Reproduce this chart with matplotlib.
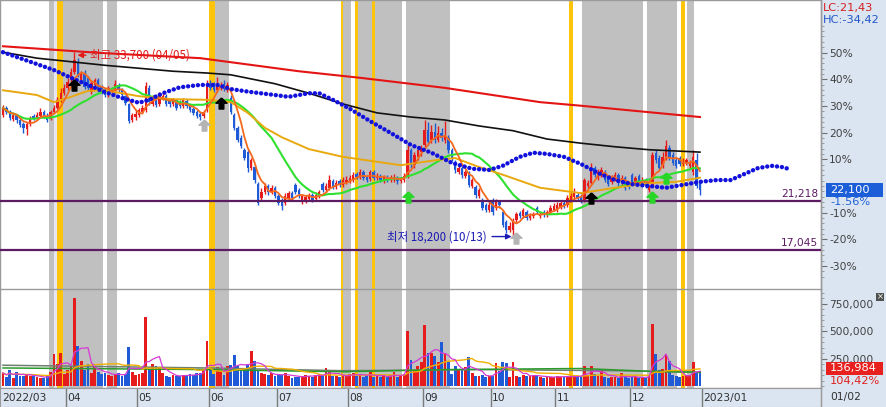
import matplotlib
matplotlib.use("Agg")
import matplotlib.pyplot as plt
import numpy as np
import pandas as pd
from matplotlib import font_manager
from matplotlib.path import Path
from matplotlib.patches import Rectangle
from matplotlib.transforms import blended_transform_factory

# ---------------- DATA ----------------
# daily OHLC, 2022/03 .. 2022/12 (one row per month)
open_ = [
 28400,29000,28650,28100,28400,28000,27650,27250,27650,28350,28150,28350,28650,28350,28100,28650,29000,29700,30250,
 30700,31350,32050,32900,31350,31950,31550,30350,30950,31350,30750,30500,30100,30350,30350,30950,30500,30000,29350,28000,28250,
 28400,28650,28850,30700,29350,29950,29350,29850,30000,29700,29350,29700,29500,29200,29600,29200,28950,28650,28500,28350,28850,
 31050,30850,30500,30700,31050,30500,29850,28400,27350,26500,25500,25300,23950,24050,22600,21450,21950,22450,21950,22300,
 21600,21250,21000,21450,21850,22550,22100,21100,21250,21350,21700,21350,21600,22600,22100,22300,22850,22350,22850,22550,22800,
 22850,22950,23450,23200,23650,23200,23050,23650,23150,23300,22850,23200,22950,22950,23150,22850,22950,23300,25500,24200,24900,25300,
 25900,27150,26300,27000,26300,26900,26300,26500,25500,24400,23650,23950,23300,23550,22450,22350,21600,21250,20850,20450,
 21250,20600,21100,20250,19400,18750,18750,19600,20200,19950,20250,19750,19950,20600,19950,20250,20000,20250,20450,
 20450,20700,21000,20850,21250,21500,21700,21600,21250,22450,22700,23950,23150,23400,23650,23150,22800,23050,23400,22700,23150,22600,
 23400,22800,23300,22600,22950,22100,22550,25250,24800,24200,24800,25650,25050,24650,24800,24300,24400,24150,23650,24650,22700,
]
close = [
 29000,28650,28150,28400,28000,27600,27350,27650,28150,28150,28400,28650,28350,28000,28650,29000,29700,30250,30700,
 31200,32050,33050,31800,31850,30750,30700,31100,31350,30500,30350,30100,30700,30500,31050,30500,30100,29450,27900,28400,28500,
 28850,29000,30850,29500,29950,29250,30100,30000,29350,29350,29700,29000,29200,29700,29200,28850,28600,28350,28250,28650,31050,
 30700,30500,31050,30850,30600,30950,28650,27350,26300,25800,24800,23950,24650,22950,21000,21950,22450,21950,22300,21600,
 21000,20750,21600,21850,21450,21950,21600,21600,21500,21600,21250,21700,21950,22100,22450,22950,22350,22700,22550,22950,22950,
 23150,23400,23200,23650,23150,22950,23650,23150,23300,22950,23200,22950,23150,23150,22850,23050,23300,25500,24200,25050,25500,25650,
 27150,26150,27000,26300,26900,26500,26750,25500,24800,23800,23950,23400,23650,22550,22950,21700,22100,20600,20450,20850,
 20250,21100,20850,19150,18750,19100,19400,20100,19950,20450,19750,19950,20100,20250,20100,20000,20250,20600,20750,
 20850,21000,20750,21450,21600,21950,21450,21250,22950,22700,24050,23400,23650,23800,22950,22600,23150,23400,22700,23150,22300,22450,
 22800,23150,22700,22950,22550,22350,25050,24650,23950,24900,25800,24800,24400,24150,24300,24450,24650,24400,24900,22450,22100,
]
high = [
 29250,29200,28850,28600,28500,28150,27850,27850,28350,28500,28650,29000,28850,28600,28850,29250,29950,30700,31050,
 31550,32350,33700,33200,32100,32200,31700,31350,31550,31550,30950,30700,30850,30750,31350,31100,30700,30100,29450,28600,28850,
 29000,29250,31200,30950,30100,30200,30350,30250,30200,29850,29850,29750,29700,29850,29750,29350,29100,28850,28650,28850,31350,
 31350,31200,31600,31200,31350,31200,30100,28600,27500,26750,25650,25500,24800,24200,22800,22300,22700,22600,22550,22450,
 21800,21450,21850,22050,22050,22700,22300,21800,21700,21850,21850,21950,22100,22800,22700,23400,23050,22950,23050,23200,23300,
 23400,23650,23650,23900,23800,23400,23800,23800,23550,23450,23400,23400,23400,23450,23300,23200,23550,25900,25650,25300,25750,25900,
 28000,27850,27600,27750,27500,27350,27900,26750,25650,24650,24200,24150,23800,23700,23150,22550,22300,21450,21000,21250,
 21450,21350,21250,20450,19600,19400,19750,20250,20350,20600,20450,20200,20250,20750,20250,20450,20450,20850,21000,
 21100,21250,21250,21700,21850,22300,21850,21800,23150,22950,24400,24150,23900,24050,23800,23300,23400,23650,23550,23400,23300,22800,
 23550,23300,23450,23200,23150,22550,25300,25500,25050,25300,26300,25900,25300,24900,24950,24800,24800,24650,25500,25250,22800,
]
low = [
 28250,28500,28000,27900,27750,27400,26900,26750,27500,28000,28100,28250,28150,27850,28000,28600,28950,29500,30100,
 30500,31200,31850,31600,31200,30600,30500,30200,30750,30350,30200,29950,29950,30250,30250,30350,29950,29250,27750,27850,28000,
 28250,28600,28650,29250,29200,29100,29200,29700,29200,29100,29200,28850,29000,29000,29000,28650,28400,28150,28000,28150,28650,
 30500,30350,30350,30500,30450,30350,28500,27150,26150,25650,24650,23650,23800,22700,20850,21250,21800,21700,21800,21450,
 20850,20450,20850,21250,21250,21800,21450,20950,21000,21200,21100,21250,21450,21950,21950,22100,22200,22200,22350,22350,22600,
 22700,22800,23050,23050,22950,22800,22850,22950,22950,22800,22700,22800,22800,22800,22600,22700,22800,23150,23950,23950,24650,24950,
 25750,25900,26050,26050,26150,26250,26050,25250,24550,23550,23450,23150,23150,22350,22300,21450,21450,20450,20250,20250,
 20000,20450,20600,19000,18500,18600,18200,19400,19750,19750,19600,19600,19750,20100,19750,19850,19850,20100,20350,
 20250,20500,20600,20700,21100,21350,21250,21000,21100,22300,22550,23200,22950,23200,22800,22450,22600,22850,22450,22550,22100,22200,
 22600,22600,22550,22450,22300,21950,22350,24400,23800,23950,24650,24650,24200,23950,24150,24150,24200,23950,23400,22300,21700,
]
volume = [
 120000,85000,145000,75000,130000,90000,95000,110000,95000,90000,80000,70000,75000,90000,130000,290000,200000,305000,110000,
 150000,180000,800000,370000,230000,150000,200000,120000,170000,130000,110000,120000,100000,90000,110000,120000,95000,110000,360000,130000,100000,
 110000,120000,630000,160000,200000,180000,175000,120000,90000,85000,100000,90000,95000,100000,90000,110000,105000,115000,120000,150000,410000,
 150000,110000,175000,140000,100000,180000,190000,285000,180000,150000,160000,200000,316000,230000,150000,120000,110000,100000,115000,90000,
 110000,100000,115000,95000,75000,80000,85000,90000,100000,95000,85000,100000,110000,90000,165000,130000,90000,95000,85000,100000,95000,
 110000,120000,90000,110000,85000,90000,130000,85000,90000,80000,95000,80000,100000,125000,85000,90000,110000,505000,240000,150000,180000,220000,
 560000,300000,300000,275000,220000,400000,290000,220000,110000,180000,145000,155000,170000,265000,120000,90000,95000,100000,85000,90000,
 95000,210000,140000,215000,210000,80000,215000,90000,85000,100000,90000,95000,105000,90000,80000,75000,80000,85000,85000,
 90000,85000,80000,95000,85000,90000,80000,95000,185000,100000,185000,110000,95000,150000,80000,70000,85000,80000,75000,115000,80000,75000,
 80000,85000,75000,80000,70000,90000,570000,290000,150000,160000,290000,225000,100000,90000,85000,95000,100000,100000,220000,120000,136984,
]

# longer moving averages (trading-day index, price)
ma60_idx = [0, 10, 15, 20, 25, 30, 40, 50, 60, 67, 72, 77, 82, 90, 100, 117, 128, 133, 140, 147, 158, 170, 180, 190, 198, 205]
ma60_val = [30500, 30100, 29500, 29950, 30450, 30500, 30000, 29750, 29700, 29500, 28600, 27350, 26550, 25550, 24900,
            24200, 24650, 24800, 24050, 23400, 22300, 21850, 22300, 22700, 22800, 23150]
ma120_idx = [0, 10, 20, 30, 40, 50, 60, 67, 80, 90, 100, 110, 120, 130, 140, 150, 160, 170, 180, 190, 205]
ma120_val = [33700, 33200, 32900, 32600, 32350, 32100, 31950, 31800, 31050, 30250, 29350, 28600, 28250, 28000,
             27500, 27100, 26400, 26050, 25750, 25500, 25300]
ma240_idx = [0, 28, 58, 87, 105, 130, 158, 170, 205]
ma240_val = [34200, 33650, 33200, 32100, 31550, 30700, 29500, 29200, 28250]
lead_idx = [0, 5, 10, 15, 20, 25, 30, 35, 40, 43, 47, 52, 58, 63, 67, 73, 80, 84, 90, 93, 97, 102, 108, 115, 120,
            126, 132, 138, 143, 147, 152, 156, 160, 165, 170, 175, 180, 185, 190, 195, 200, 205, 210, 214, 218,
            222, 226, 229, 231]
lead_val = [33700, 33200, 32700, 32200, 31550, 30950, 30350, 29850, 29450, 29700, 30250, 30750, 30950, 30950, 30600,
            30350, 30100, 29950, 30250, 30250, 29700, 28950, 27900, 26750, 25900, 25250, 24400, 23900, 23800, 24150,
            24900, 25250, 25150, 24900, 24300, 23550, 22950, 22600, 22450, 22300, 22550, 22800, 22950, 22950, 23450,
            23950, 24150, 24050, 23900]
vma60_idx = [0, 60, 100, 130, 170, 190, 205]
vma60_val = [165000, 150000, 130000, 150000, 160000, 135000, 125000]
vma120_idx = [0, 60, 100, 140, 180, 205]
vma120_val = [190000, 165000, 140000, 150000, 140000, 125000]

# highlighted day ranges
gray_days = [(13.5, 15.0), (17.6, 29.4), (30.6, 33.5), (62.4, 66.5), (100.0, 102.4), (104.4, 108.5),
             (109.4, 117.4), (118.5, 131.5), (170.3, 188.2), (189.4, 198.2), (201.2, 203.2)]
yellow_days = [(15.9, 17.6), (60.6, 62.4), (99.4, 100.0), (103.5, 104.4), (108.5, 109.4), (166.5, 167.6), (199.4, 200.6)]
light_days = [(15.0, 15.9)]

# signals
sig_black_idx = [21, 64, 173]; sig_black_val = [30950, 29450, 21450]
sig_gray_idx = [59, 151];      sig_gray_val = [27600, 18050]
sig_green_idx = [119, 191, 195]; sig_green_val = [21550, 21550, 23100]

support_levels = [21218, 17045]
base_price = 22450
pct_ticks = [-30, -20, -10, 10, 20, 30, 40, 50]
vol_ticks = [250000, 500000, 750000]
month_labels = ['2022/03', '04', '05', '06', '07', '08', '09', '10', '11', '12', '2023/01']
month_start = [0, 19, 40, 61, 81, 102, 124, 144, 163, 185, 206]

# ---------------- STYLE ----------------
names = {f.name for f in font_manager.fontManager.ttflist}
NARROW = 'Liberation Sans Narrow' if 'Liberation Sans Narrow' in names else 'DejaVu Sans'
NS = 9 if NARROW != 'DejaVu Sans' else 7.2
KR = ['Noto Sans CJK KR', 'DejaVu Sans']
PANEL = '#dbe5f1'
RED = '#e61c1c'
BLUE = '#1f5bd6'
GRID = '#9a9a9a'

W, H = 886, 407
fig = plt.figure(figsize=(W / 100, H / 100), dpi=100)
fig.patch.set_facecolor('white')
fx = lambda px: px / W
fy = lambda py: 1 - py / H
PR = 821

fig.add_artist(Rectangle((fx(PR), 0), 1 - fx(PR), 1, transform=fig.transFigure,
                         facecolor=PANEL, edgecolor='none', zorder=-10))

ax = fig.add_axes([0, fy(289), fx(PR), 289 / H])
axv = fig.add_axes([0, fy(388), fx(PR), (388 - 289) / H])
axd = fig.add_axes([0, 0, fx(PR), 19 / H])

N = len(close)
idx = np.arange(N)
XL = (-0.88, 240.6)
o = np.array(open_, float); c = np.array(close, float)
h = np.array(high, float); l = np.array(low, float)
v = np.array(volume, float)
cols = np.where(c >= o, RED, BLUE)

for a in (ax, axv):
    for s, e in gray_days:
        a.axvspan(s, e, color='#c0c0c0', lw=0, zorder=0.5)
    for s, e in yellow_days:
        a.axvspan(s, e, color='#fcc50c', lw=0, zorder=0.6)
    for s, e in light_days:
        a.axvspan(s, e, color='#e6e6f0', lw=0, zorder=0.5)
    a.set_xlim(*XL)
    a.set_xticks([])
    for sp in a.spines.values():
        sp.set_color(GRID); sp.set_linewidth(1.0)

# price panel
ax.set_ylim(13790, 38090)
ax.vlines(idx, l, h, colors=cols, lw=1.0, zorder=3)
body = np.maximum(np.abs(c - o), 40)
ax.bar(idx, body, bottom=np.minimum(o, c), width=0.72, color=cols, lw=0, zorder=3)

cs = pd.Series(c)
ax.plot(idx, cs.rolling(20, min_periods=1).mean(), color='#2fe02f', lw=1.5, zorder=4)
ax.plot(ma60_idx, ma60_val, color='#e8a80e', lw=1.4, zorder=4)
ax.plot(ma120_idx, ma120_val, color='#111111', lw=1.2, zorder=4)
ax.plot(ma240_idx, ma240_val, color='#e41414', lw=1.5, zorder=4)
ax.plot(idx, cs.rolling(5, min_periods=1).mean(), color='#f36a1e', lw=1.3, zorder=4)
ax.plot(lead_idx, lead_val, color='#1212dc', lw=3.2, linestyle=(0, (0.01, 1.1)),
        dash_capstyle='round', zorder=5)

for lv in support_levels:
    ax.axhline(lv, color='#5c1b63', lw=1.6, zorder=4)
    ax.annotate(f"{lv:,}", xy=(1, lv), xycoords=blended_transform_factory(ax.transAxes, ax.transData),
                xytext=(-2, 1.5), textcoords='offset points', ha='right', va='bottom',
                color='#5c1b63', fontsize=NS + 0.5, family=NARROW)

arrow = Path([(0, 1), (-1, 0.05), (-0.42, 0.05), (-0.42, -1), (0.42, -1), (0.42, 0.05), (1, 0.05), (0, 1)])
ax.plot(sig_black_idx, sig_black_val, ls='none', marker=arrow, ms=8, color='black', zorder=6)
ax.plot(sig_gray_idx, sig_gray_val, ls='none', marker=arrow, ms=8, color='#b4b4b4', zorder=6)
ax.plot(sig_green_idx, sig_green_val, ls='none', marker=arrow, ms=8, color='#27d627', zorder=6)

ax.annotate('최고 33,700 (04/05)', xy=(21.9, 33450), xytext=(25.6, 33450), ha='left', va='center',
            color='#e21a1a', fontsize=8.3, family=KR, zorder=7,
            arrowprops=dict(arrowstyle='-|>', color='#e21a1a', lw=1.0, shrinkA=1, shrinkB=0, mutation_scale=8))
ax.annotate('최저 18,200 (10/13)', xy=(149.6, 18200), xytext=(112.9, 18200), ha='left', va='center',
            color='#1a1ab4', fontsize=8.3, family=KR, zorder=7,
            arrowprops=dict(arrowstyle='-|>', color='#1a1ab4', lw=1.0, shrinkA=2, shrinkB=0, mutation_scale=8))

ax.yaxis.tick_right()
ax.set_yticks([base_price * (1 + p / 100) for p in pct_ticks])
ax.set_yticklabels([f"{p}%" for p in pct_ticks])
ax.set_yticks([base_price * (1 + p / 100) for p in range(-34, 62, 2)], minor=True)
ax.tick_params(axis='y', which='major', direction='out', length=4, color='#707070', pad=2,
               labelsize=NS + 0.5, labelcolor='#404040')
ax.tick_params(axis='y', which='minor', direction='out', length=2, color='#909090')
for t in ax.get_yticklabels():
    t.set_family(NARROW)
ax.spines['bottom'].set_visible(False)

# volume panel
axv.set_ylim(-18000, 886000)
axv.bar(idx, v, width=0.82, color=cols, lw=0, zorder=3)
vs = pd.Series(v)
axv.plot(vma120_idx, vma120_val, color='#6f7f6f', lw=1.1, zorder=4)
axv.plot(vma60_idx, vma60_val, color='#2a9a2a', lw=1.1, zorder=4)
axv.plot(idx, vs.rolling(20, min_periods=1).mean(), color='#f0b000', lw=1.0, zorder=4)
axv.plot(idx, vs.rolling(5, min_periods=1).mean(), color='#d43ad4', lw=0.9, zorder=4)
axv.yaxis.tick_right()
axv.set_yticks(vol_ticks)
axv.set_yticklabels([f"{t:,}" for t in vol_ticks])
axv.set_yticks(np.arange(0, 900000, 50000), minor=True)
axv.tick_params(axis='y', which='major', direction='out', length=4, color='#707070', pad=2,
                labelsize=NS + 0.5, labelcolor='#404040')
axv.tick_params(axis='y', which='minor', direction='out', length=2, color='#909090')
for t in axv.get_yticklabels():
    t.set_family(NARROW)

# date strip
axd.set_facecolor(PANEL)
axd.set_xlim(*XL); axd.set_ylim(0, 1)
axd.set_xticks([]); axd.set_yticks([])
for sp in axd.spines.values():
    sp.set_color(GRID)
for k, (lab, st) in enumerate(zip(month_labels, month_start)):
    xb = st - 0.5
    if k > 0:
        axd.axvline(xb, color='#7a7a7a', lw=1.0)
    axd.text(max(xb, -0.5) + 0.35, 0.45, lab, ha='left', va='center', fontsize=NS + 0.5,
             family=NARROW, color='#303030')

# right-panel texts
fig.text(fx(823), fy(8), 'LC:21,43', color='#d42020', fontsize=NS + 1, family=NARROW, va='center')
fig.text(fx(823), fy(20), 'HC:-34,42', color='#2456c8', fontsize=NS + 1, family=NARROW, va='center')
fig.add_artist(Rectangle((fx(826), fy(197)), fx(883) - fx(826), 14 / H, transform=fig.transFigure,
                         facecolor='#1c5ed8', edgecolor='none', zorder=5))
fig.text(fx(830), fy(190), '22,100', color='white', fontsize=NS + 1, family=NARROW, va='center', zorder=6)
fig.text(fx(830), fy(202.5), '-1.56%', color='#2060d8', fontsize=NS + 1, family=NARROW, va='center', zorder=6)
fig.add_artist(Rectangle((fx(826), fy(375)), fx(883) - fx(826), 13 / H, transform=fig.transFigure,
                         facecolor='#e8201e', edgecolor='none', zorder=5))
fig.text(fx(830), fy(368.5), '136,984', color='white', fontsize=NS + 1, family=NARROW, va='center', zorder=6)
fig.text(fx(830), fy(381), '104,42%', color='#e02020', fontsize=NS + 1, family=NARROW, va='center', zorder=6)
fig.text(fx(830), fy(397), '01/02', color='#303030', fontsize=NS + 0.5, family=NARROW, va='center')
fig.add_artist(Rectangle((fx(876), fy(301)), fx(884) - fx(876), 8 / H, transform=fig.transFigure,
                         facecolor='#505050', edgecolor='none', zorder=5))
fig.text(fx(880), fy(297), '×', color='white', fontsize=6, ha='center', va='center', zorder=6)
fig.add_artist(plt.Line2D([fx(PR), fx(PR)], [0, 1], transform=fig.transFigure, color=GRID, lw=1.0))

fig.savefig('out.png', dpi=100, facecolor='white')
